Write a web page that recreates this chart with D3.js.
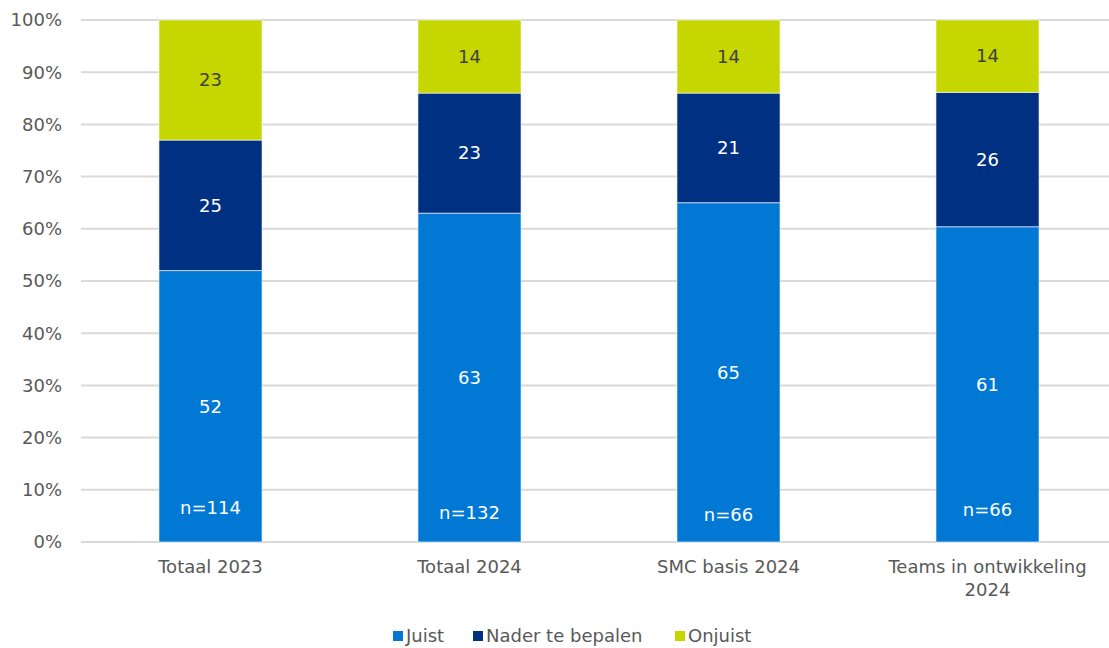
<!DOCTYPE html>
<html>
<head>
<meta charset="utf-8">
<script src="https://cdn.jsdelivr.net/npm/d3@7"></script>
<style>
  body { margin: 0; background: #fff; }
  svg { display: block; font-family: "DejaVu Sans", Verdana, sans-serif; }
</style>
</head>
<body>
<svg id="chart" width="1109" height="648"></svg>
<script>
// Data
const categories = ['Totaal 2023', 'Totaal 2024', 'SMC basis 2024', 'Teams in ontwikkeling 2024'];
const seriesNames = ['Juist', 'Nader te bepalen', 'Onjuist'];
const juist = [52, 63, 65, 61];
const naderTeBepalen = [25, 23, 21, 26];
const onjuist = [23, 14, 14, 14];
const nLabels = ['n=114', 'n=132', 'n=66', 'n=66'];
const nLabelAt = [6.5, 5.7, 5.2, 6.1]; // percent height where the n= text sits
const yTicks = [0, 10, 20, 30, 40, 50, 60, 70, 80, 90, 100];

const colors = ['#0078d4', '#003082', '#c5d600'];
const labelColors = ['#ffffff', '#ffffff', '#404040'];
const textColor = '#595959';

const svg = d3.select('#chart');
const W = 1109;
const plot = { left: 81, right: 1117, top: 20, bottom: 542 };

// rows normalised to 100%
const rows = categories.map((c, i) => {
  const tot = juist[i] + naderTeBepalen[i] + onjuist[i];
  return {
    cat: c,
    vals: [juist[i], naderTeBepalen[i], onjuist[i]],
    Juist: juist[i] / tot * 100,
    'Nader te bepalen': naderTeBepalen[i] / tot * 100,
    Onjuist: onjuist[i] / tot * 100
  };
});

const stack = d3.stack().keys(seriesNames)(rows);

const x = d3.scaleBand()
  .domain(categories)
  .range([plot.left, plot.right])
  .paddingInner(0.602)
  .paddingOuter(0.301);

const y = d3.scaleLinear()
  .domain([0, 100])
  .range([plot.bottom, plot.top]);

// Gridlines
svg.append('g')
  .selectAll('line')
  .data(yTicks)
  .enter()
  .append('line')
  .attr('x1', plot.left)
  .attr('x2', W)
  .attr('y1', d => y(d))
  .attr('y2', d => y(d))
  .attr('stroke', '#d9d9d9')
  .attr('stroke-width', 2);

// Y labels
svg.append('g')
  .selectAll('text')
  .data(yTicks)
  .enter()
  .append('text')
  .attr('x', 62)
  .attr('y', d => y(d))
  .attr('dy', '0.35em')
  .attr('text-anchor', 'end')
  .style('fill', textColor)
  .style('font-size', '18px')
  .text(d => d + '%');

// Bars
const layers = svg.append('g')
  .selectAll('g')
  .data(stack)
  .enter()
  .append('g')
  .attr('fill', (d, i) => colors[i]);

layers.selectAll('rect')
  .data(d => d)
  .enter()
  .append('rect')
  .attr('x', d => x(d.data.cat))
  .attr('y', d => y(d[1]))
  .attr('width', x.bandwidth())
  .attr('height', d => y(d[0]) - y(d[1]))
  .attr('stroke', '#ffffff')
  .attr('stroke-opacity', 0.6)
  .attr('stroke-width', 1);

// Value labels
stack.forEach((layer, si) => {
  svg.append('g')
    .selectAll('text')
    .data(layer)
    .enter()
    .append('text')
    .attr('x', d => x(d.data.cat) + x.bandwidth() / 2)
    .attr('y', d => y((d[0] + d[1]) / 2))
    .attr('dy', '0.35em')
    .attr('text-anchor', 'middle')
    .style('fill', labelColors[si])
    .style('font-size', '18px')
    .text(d => d.data.vals[si]);
});

// n= labels
svg.append('g')
  .selectAll('text')
  .data(categories)
  .enter()
  .append('text')
  .attr('x', d => x(d) + x.bandwidth() / 2)
  .attr('y', (d, i) => y(nLabelAt[i]))
  .attr('dy', '0.35em')
  .attr('text-anchor', 'middle')
  .style('fill', '#ffffff')
  .style('font-size', '18px')
  .text((d, i) => nLabels[i]);

// X labels (wrap long one)
const xl = svg.append('g')
  .selectAll('text')
  .data(categories)
  .enter()
  .append('text')
  .attr('x', d => x(d) + x.bandwidth() / 2)
  .attr('y', 567)
  .attr('dy', '0.35em')
  .attr('text-anchor', 'middle')
  .style('fill', textColor)
  .style('font-size', '18px');

xl.each(function(d) {
  const t = d3.select(this);
  const lines = d.length > 20 ? ['Teams in ontwikkeling', '2024'] : [d];
  lines.forEach((ln, i) => {
    t.append('tspan')
      .attr('x', x(d) + x.bandwidth() / 2)
      .attr('dy', i === 0 ? '0.35em' : '1.28em')
      .text(ln);
  });
});

// Legend
const legendItems = [
  { name: 'Juist', x: 393 },
  { name: 'Nader te bepalen', x: 473 },
  { name: 'Onjuist', x: 675 }
];
const lg = svg.append('g');
legendItems.forEach((it, i) => {
  lg.append('rect')
    .attr('x', it.x)
    .attr('y', 631)
    .attr('width', 10)
    .attr('height', 10)
    .attr('fill', colors[i]);
  lg.append('text')
    .attr('x', it.x + 13)
    .attr('y', 636)
    .attr('dy', '0.35em')
    .style('fill', textColor)
    .style('font-size', '18px')
    .text(it.name);
});
</script>
</body>
</html>
